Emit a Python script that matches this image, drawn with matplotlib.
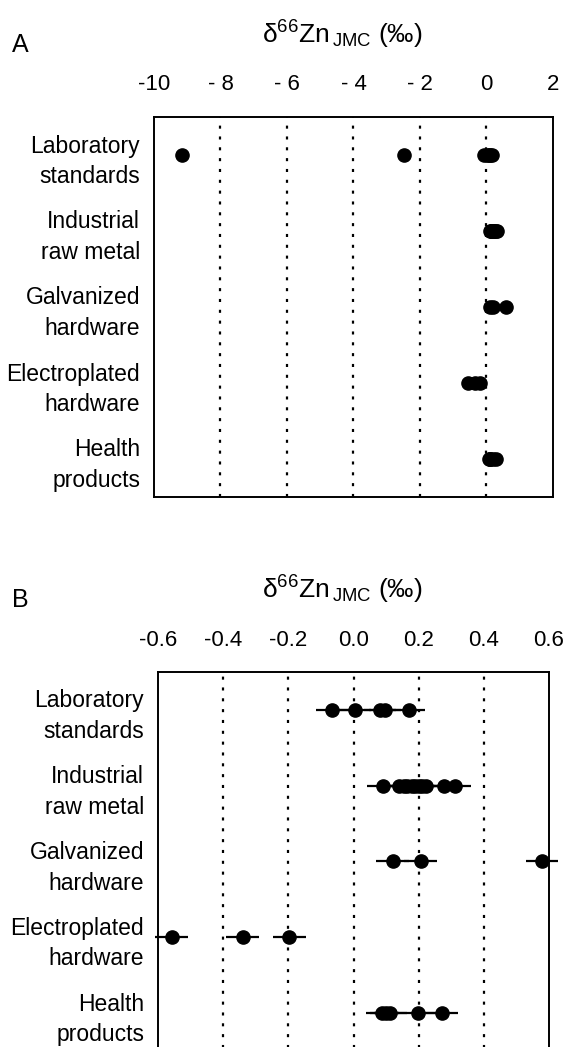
import matplotlib
matplotlib.use("Agg")
import matplotlib.pyplot as plt
import matplotlib.transforms as mtransforms

plt.rcParams['font.family'] = ['Liberation Sans', 'DejaVu Sans']
plt.rcParams['mathtext.fontset'] = 'custom'
plt.rcParams['mathtext.rm'] = 'Liberation Sans'
plt.rcParams['mathtext.default'] = 'regular'
plt.rcParams['lines.scale_dashes'] = False

# categories (top to bottom)
categories = ["Laboratory\nstandards", "Industrial\nraw metal", "Galvanized\nhardware",
              "Electroplated\nhardware", "Health\nproducts"]

# delta66Zn JMC values (permil)
lab_standards = [-9.17, -2.47, -0.065, 0.005, 0.081, 0.097, 0.170]
industrial = [0.092, 0.14, 0.155, 0.165, 0.18, 0.19, 0.20, 0.21, 0.223, 0.278, 0.312]
galvanized = [0.120, 0.206, 0.578]
electroplated = [-0.558, -0.340, -0.197]
health = [0.089, 0.10, 0.113, 0.199, 0.271]
err_2sd = 0.05

groups = [lab_standards, industrial, galvanized, electroplated, health]

ticks_A = [-10, -8, -6, -4, -2, 0, 2]
tick_labels_A = ["-10", "- 8", "- 6", "- 4", "- 2", "0", "2"]
ticks_B = [-0.6, -0.4, -0.2, 0.0, 0.2, 0.4, 0.6]
tick_labels_B = ["-0.6", "-0.4", "-0.2", "0.0", "0.2", "0.4", "0.6"]

W, H = 566, 1047
fig = plt.figure(figsize=(W / 100, H / 100), dpi=100)


def px_box(left, top, right, bottom):
    return [left / W, 1 - bottom / H, (right - left) / W, (bottom - top) / H]


def draw_panel(ax, xlim, ticks, labels, with_err, letter, top_px):
    ax.set_xlim(*xlim)
    ax.set_ylim(len(categories) - 0.5, -0.5)
    # dotted reference lines at inner ticks
    for t in ticks:
        if xlim[0] < t < xlim[1]:
            ax.axvline(t, color='k', lw=1.6, linestyle=(0, (2.2, 5.6)), zorder=1)
    for i, vals in enumerate(groups):
        vals = [v for v in vals if xlim[0] <= v <= xlim[1]]
        if with_err:
            cont = ax.errorbar(vals, [i] * len(vals), xerr=err_2sd, fmt='o', color='k',
                               ms=9.5, elinewidth=1.6, capsize=0, zorder=3, clip_on=False)
            for art in cont.lines[2]:
                art.set_clip_on(False)
        else:
            ax.plot(vals, [i] * len(vals), 'o', color='k', ms=9.5, zorder=3, clip_on=False)
    ax.set_xticks([])
    ax.set_yticks(range(len(categories)))
    ax.set_yticklabels(categories, fontsize=16.5, linespacing=1.42)
    ax.tick_params(axis='y', length=0, pad=10)
    for s in ax.spines.values():
        s.set_linewidth(1.4)
    # tick labels drawn above the box
    trans = mtransforms.blended_transform_factory(ax.transData, fig.transFigure)
    for t, lab in zip(ticks, labels):
        ax.text(t, 1 - (top_px - 32) / H, lab, transform=trans, ha='center', va='center',
                fontsize=16, clip_on=False)
    fig.text(342 / W, 1 - (top_px - 82) / H, r'δ$^{66}$Zn$_{\,JMC}$ (‰)',
             ha='center', va='center', fontsize=19)
    fig.text(20 / W, 1 - (top_px - 72) / H, letter, ha='center', va='center', fontsize=18)


axA = fig.add_axes(px_box(154, 117, 553, 497))
draw_panel(axA, (-10, 2), ticks_A, tick_labels_A, False, "A", 117)

axB = fig.add_axes(px_box(158, 672, 549, 1051))
draw_panel(axB, (-0.6, 0.6), ticks_B, tick_labels_B, True, "B", 672)

fig.savefig("out.png", dpi=100)
